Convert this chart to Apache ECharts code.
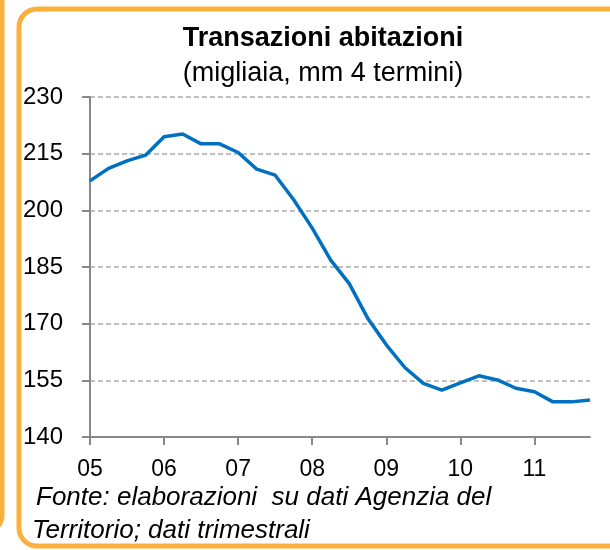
<!DOCTYPE html>
<html>
<head>
<meta charset="utf-8">
<script src="https://cdn.jsdelivr.net/npm/echarts@6/dist/echarts.min.js"></script>
<style>
  html, body { margin: 0; padding: 0; background: #fff; }
  #chart { width: 610px; height: 550px; }
</style>
</head>
<body>
<div id="chart"></div>
<script>
// dati: transazioni abitazioni, migliaia, media mobile 4 termini (trimestrale 2005-2011)
const years = ['05', '06', '07', '08', '09', '10', '11'];
const quarters = years.flatMap(y => [y + 'T1', y + 'T2', y + 'T3', y + 'T4']);
const transazioni = [
  207.8, 211.1, 213.1, 214.6,
  219.5, 220.2, 217.6, 217.6,
  215.3, 210.9, 209.3, 202.8,
  195.3, 186.8, 180.6, 171.4,
  164.4, 158.4, 154.2, 152.4,
  154.3, 156.2, 155.1, 152.9,
  152.0, 149.3, 149.3, 149.8
];
const yTicks = [140, 155, 170, 185, 200, 215, 230];

const chart = echarts.init(document.getElementById('chart'));
const fontFam = 'Liberation Sans, Arial, sans-serif';

const option = {
  animation: false,
  textStyle: { fontFamily: fontFam },
  title: {
    text: 'Transazioni abitazioni',
    subtext: '(migliaia, mm 4 termini)',
    left: 318, textAlign: 'center', top: 20, itemGap: 8,
    textStyle: { fontSize: 27, fontWeight: 'bold', color: '#000' },
    subtextStyle: { fontSize: 27, color: '#000' }
  },
  grid: { left: 90, right: 20, top: 97, bottom: 113 },
  xAxis: {
    type: 'category',
    data: quarters,
    boundaryGap: false,
    axisLine: { lineStyle: { color: '#888', width: 2 } },
    axisTick: { interval: 3, length: 8, lineStyle: { color: '#888', width: 2 } },
    axisLabel: {
      interval: 3, margin: 21, fontSize: 23, color: '#000',
      formatter: v => v.slice(0, 2)
    },
    splitLine: { show: false }
  },
  yAxis: {
    type: 'value',
    min: yTicks[0], max: yTicks[yTicks.length - 1], interval: 15,
    axisLine: { show: true, lineStyle: { color: '#888', width: 2 } },
    axisTick: { show: true, length: 8, lineStyle: { color: '#888', width: 2 } },
    axisLabel: { margin: 27, fontSize: 24, color: '#000' },
    splitLine: { lineStyle: { color: '#aaa', type: [5, 3], width: 1.5 } }
  },
  series: [{
    type: 'line',
    data: transazioni,
    symbol: 'none',
    lineStyle: { color: '#0070C0', width: 3.5 },
    z: 3
  }],
  graphic: [
    // riquadro arancione (e bordo del riquadro a sinistra)
    { type: 'rect', shape: { x: -40, y: -30, width: 42, height: 560, r: 14 },
      style: { fill: 'none', stroke: '#FBB03B', lineWidth: 5 } },
    { type: 'rect', shape: { x: 19, y: 9, width: 620, height: 537, r: 18 },
      style: { fill: 'none', stroke: '#FBB03B', lineWidth: 5 } },
    { type: 'text', left: 36, top: 485,
      style: { text: 'Fonte: elaborazioni  su dati Agenzia del', font: 'italic 26px ' + fontFam, fill: '#000' } },
    { type: 'text', left: 32, top: 518,
      style: { text: 'Territorio; dati trimestrali', font: 'italic 26px ' + fontFam, fill: '#000' } }
  ]
};

chart.setOption(option);
window.addEventListener('resize', () => chart.resize());
</script>
</body>
</html>
